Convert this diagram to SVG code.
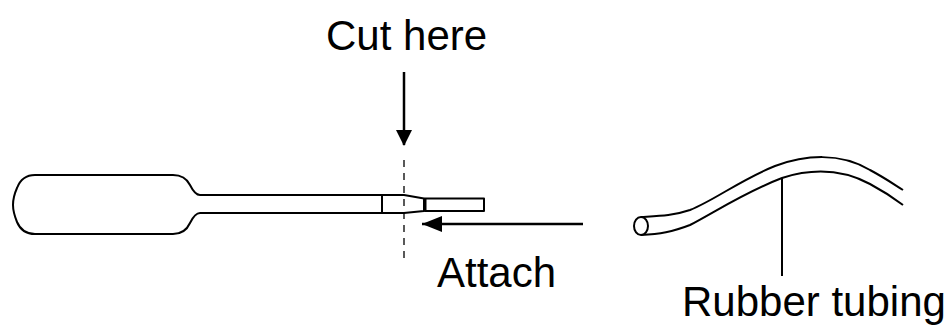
<svg xmlns="http://www.w3.org/2000/svg" width="952" height="327" viewBox="0 0 952 327">
<style>
.o{fill:none;stroke:#000;stroke-width:2;stroke-linejoin:round}
.l{fill:none;stroke:#000;stroke-width:2.5}
.d{fill:none;stroke:#000;stroke-width:1.3;stroke-dasharray:7,6}
.t{font-family:"Liberation Sans",Arial,sans-serif;font-size:42px;fill:#000}
</style>
<defs>
<marker id="ah" markerWidth="16" markerHeight="16" refX="15" refY="8" orient="auto" markerUnits="userSpaceOnUse">
<path d="M0,0 L16,8 L0,16 Z" fill="#000"/>
</marker>
<marker id="ah2" markerWidth="20" markerHeight="16" refX="20" refY="8" orient="auto" markerUnits="userSpaceOnUse">
<path d="M0,0 L20,8 L0,16 Z" fill="#000"/>
</marker>
</defs>
<g id="pipette">
<path class="o" d="M35,175 L173,175 Q185,175 190,185 Q195,195 200,195 L404,195 L424,198.5 L424,211 L404,213 L200,213 Q195,213 190,223 Q185,234 173,234 L35,234 Q22,234 17,222 Q13,212 13,205 Q13,197 17,188 Q22,175 35,175 Z"/>
<line class="o" x1="382" y1="195" x2="382" y2="213"/>
<line x1="425" y1="198.5" x2="425" y2="211" stroke="#000" stroke-width="3"/>
<rect class="o" x="425" y="198.5" width="59" height="12.5"/>
</g>
<g id="cutline">
<line class="d" x1="404" y1="160" x2="404" y2="258"/>
</g>
<g id="tubing">
<ellipse class="o" cx="641" cy="226" rx="7" ry="9"/>
<path class="o" d="M641,217 C660,216 672,216 690,210 C715,200 740,180 775,166 C805,155 840,152 870,170 C885,178 895,185 903,190"/>
<path class="o" d="M641,235 C660,234 672,232 690,225 C715,212 745,192 782,178 C810,169 840,168 870,184 C885,192 895,199 903,205"/>
</g>
<g id="connectors">
<line class="l" x1="404" y1="72" x2="404" y2="145" marker-end="url(#ah)"/>
<line class="l" x1="583" y1="224" x2="422" y2="224" marker-end="url(#ah2)"/>
<line class="o" x1="782" y1="178" x2="782" y2="276"/>
</g>
<g id="labels">
<text class="t" x="326" y="50">Cut here</text>
<text class="t" x="437" y="287">Attach</text>
<text class="t" x="682" y="316">Rubber tubing</text>
</g>
</svg>
